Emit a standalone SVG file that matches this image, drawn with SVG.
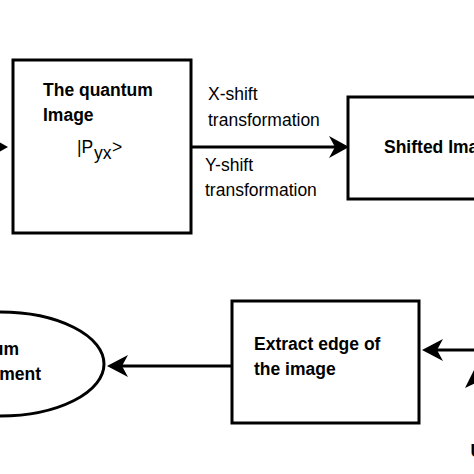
<svg xmlns="http://www.w3.org/2000/svg" width="474" height="474" viewBox="0 0 474 474">
<style>
.box{fill:#fff;stroke:#000;stroke-width:3}
.line{stroke:#000;stroke-width:3;fill:none}
.head{fill:#000;stroke:none}
.b{font-family:"Liberation Sans",Arial,sans-serif;font-weight:bold;font-size:17.5px;fill:#000}
.r{font-family:"Liberation Sans",Arial,sans-serif;font-size:17.5px;fill:#000}
</style>
<rect width="474" height="474" fill="#fff"/>
<g id="connectors">
<line class="line" x1="-20" y1="147" x2="0" y2="147"/>
<path class="head" d="M8,147 L-12,136 L-6,147 L-12,158 Z"/>
<line class="line" x1="191" y1="147" x2="336" y2="147"/>
<path class="head" d="M349,147 L329,136 L335,147 L329,158 Z"/>
<line class="line" x1="474" y1="350" x2="436" y2="350"/>
<path class="head" d="M422,350 L443,339 L437,350 L443,361 Z"/>
<path class="head" d="M480,358 L465,388 L480,381 L495,388 Z"/>
<line class="line" x1="232" y1="366" x2="120" y2="366"/>
<path class="head" d="M107,366 L128,355 L122,366 L128,377 Z"/>
</g>
<g id="edge-labels">
<text class="r" x="208" y="100">X-shift</text>
<text class="r" x="208" y="126">transformation</text>
<text class="r" x="205" y="171">Y-shift</text>
<text class="r" x="205" y="196">transformation</text>
</g>
<g id="quantum-image">
<rect class="box" x="13" y="60" width="178" height="173"/>
<text class="b" x="43" y="96">The quantum</text>
<text class="b" x="43" y="121">Image</text>
<text class="r" x="77" y="153">|P</text>
<text class="r" x="94" y="159">yx</text>
<text class="r" x="112" y="153">&gt;</text>
</g>
<g id="shifted-image">
<rect class="box" x="348" y="97" width="150" height="102"/>
<text class="b" x="384" y="153">Shifted Image</text>
</g>
<g id="extract-edge">
<rect class="box" x="232" y="301" width="187" height="122"/>
<text class="b" x="254" y="350">Extract edge of</text>
<text class="b" x="254" y="375">the image</text>
</g>
<g id="measurement">
<ellipse class="box" cx="0" cy="364" rx="104" ry="52"/>
<text class="b" x="19" y="355" text-anchor="end">Quantum</text>
<text class="b" x="41" y="380" text-anchor="end">measurement</text>
</g>
<g id="offscreen-node">
<text class="b" x="470.5" y="457">U</text>
</g>
</svg>
